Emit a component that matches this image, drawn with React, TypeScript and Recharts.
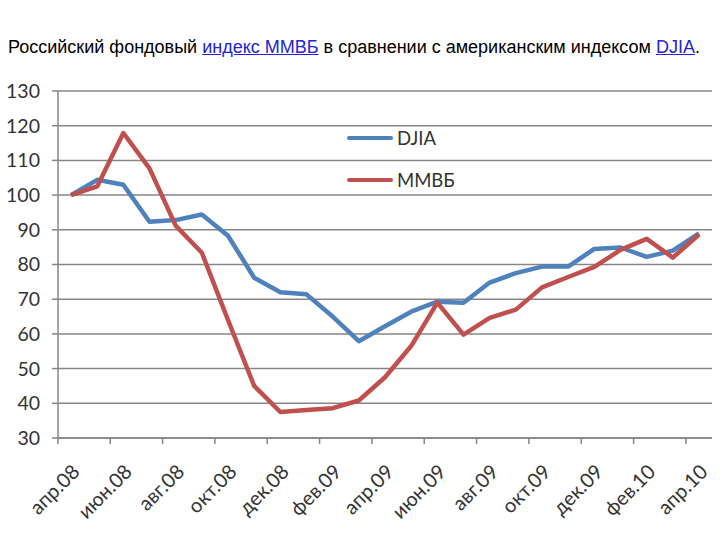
import { LineChart, Line, XAxis, YAxis, CartesianGrid } from 'recharts'

const months = [
  'апр.08', 'май.08', 'июн.08', 'июл.08', 'авг.08', 'сен.08', 'окт.08', 'ноя.08', 'дек.08',
  'янв.09', 'фев.09', 'мар.09', 'апр.09', 'май.09', 'июн.09', 'июл.09', 'авг.09', 'сен.09',
  'окт.09', 'ноя.09', 'дек.09', 'янв.10', 'фев.10', 'мар.10', 'апр.10',
]

const djia = [
  100, 104.4, 103, 92.3, 92.8, 94.4, 88.3, 76.2, 72, 71.4, 65, 57.9, 62.2, 66.4, 69.3, 69,
  74.8, 77.5, 79.4, 79.4, 84.5, 84.9, 82.2, 84, 89,
]

const micex = [
  100, 102.5, 117.9, 107.7, 91.2, 83.4, 64, 45, 37.5, 38.1, 38.6, 40.8, 47.5, 56.5, 69, 59.8,
  64.6, 67, 73.4, 76.4, 79.3, 84.2, 87.4, 82, 88.6,
]

const yTicks = [30, 40, 50, 60, 70, 80, 90, 100, 110, 120, 130]

const series = [
  { key: 'djia', name: 'DJIA', color: '#4f81bd' },
  { key: 'micex', name: 'ММВБ', color: '#c0504d' },
]

const data = months.map((m, i) => ({ month: m, djia: djia[i], micex: micex[i] }))

const AXIS = '#868686'
const FONT = 'Lato, "Open Sans", sans-serif'
const STEP = (712 - 58 - 26) / (months.length - 1)

function XTick(props: any) {
  const { x, y, payload } = props
  const lx = x - STEP / 2
  const tx = x + 10
  const ty = y + 35
  return (
    <g>
      <line x1={lx} x2={lx} y1={y} y2={y + 6} stroke={AXIS} strokeWidth={1.5} />
      <text
        x={tx}
        y={ty}
        transform={`rotate(-45, ${tx}, ${ty})`}
        textAnchor="end"
        fill="#333"
        fontSize={20}
        fontFamily={FONT}
      >
        {payload.value}
      </text>
    </g>
  )
}

const link = { color: '#2323d8', textDecoration: 'underline' }

export default function App() {
  return (
    <div style={{ position: 'absolute', left: 0, top: 0, width: 720, height: 540, background: '#fff' }}>
      <div
        style={{
          position: 'absolute',
          left: 8,
          top: 37,
          fontFamily: '"Liberation Sans", Arial, sans-serif',
          fontSize: 18,
          color: '#000',
          whiteSpace: 'nowrap',
        }}
      >
        Российский фондовый <span style={link}>индекс ММВБ</span> в сравнении с американским индексом{' '}
        <span style={link}>DJIA</span>.
      </div>
      <div style={{ position: 'absolute', left: 0, top: 0 }}>
        <LineChart width={720} height={540} data={data} margin={{ top: 91, right: 8, bottom: 0, left: 0 }}>
          <CartesianGrid vertical={false} stroke={AXIS} strokeWidth={1.5} />
          <XAxis
            dataKey="month"
            interval={1}
            padding={{ left: 13, right: 13 }}
            height={102}
            tickSize={0}
            tickMargin={0}
            tick={<XTick />}
            axisLine={{ stroke: AXIS, strokeWidth: 1.5 }}
          />
          <YAxis
            width={58}
            domain={[30, 130]}
            ticks={yTicks}
            interval={0}
            tickSize={6}
            tickMargin={12}
            tick={{ fill: '#333', fontSize: 19.5, fontFamily: FONT }}
            tickLine={{ stroke: AXIS, strokeWidth: 1.5 }}
            axisLine={{ stroke: AXIS, strokeWidth: 1.5 }}
          />
          {series.map((s) => (
            <Line
              key={s.key}
              name={s.name}
              dataKey={s.key}
              type="linear"
              stroke={s.color}
              strokeWidth={4.5}
              dot={false}
              strokeLinejoin="round"
              isAnimationActive={false}
            />
          ))}
        </LineChart>
      </div>
      <div style={{ position: 'absolute', left: 347, top: 117 }}>
        {series.map((s) => (
          <div key={s.key} style={{ display: 'flex', alignItems: 'center', height: 42 }}>
            <div style={{ width: 46, height: 4.5, background: s.color, borderRadius: 2 }} />
            <span style={{ marginLeft: 4, fontSize: 18.5, color: '#333', fontFamily: FONT }}>{s.name}</span>
          </div>
        ))}
      </div>
    </div>
  )
}
